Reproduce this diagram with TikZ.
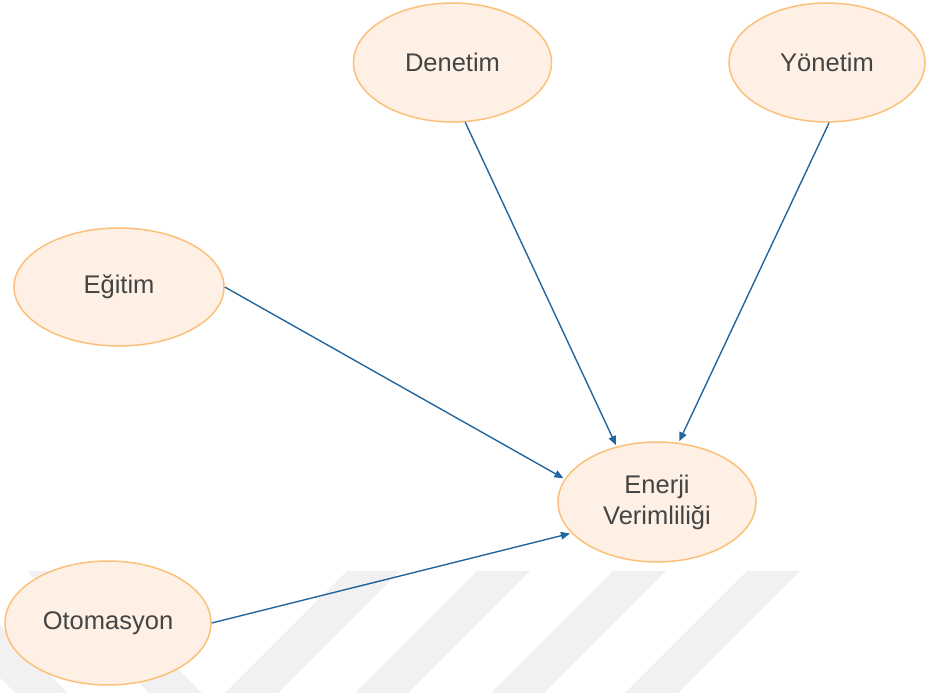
\documentclass[tikz,border=0pt]{standalone}
\usepackage{fontspec}
\setmainfont{Liberation Sans}
\usetikzlibrary{shapes.geometric,arrows.meta}
\definecolor{bubblefill}{HTML}{FEF0E4}
\definecolor{bubbleline}{HTML}{FBC07A}
\definecolor{linkblue}{HTML}{2266A0}
\definecolor{labelgray}{HTML}{444444}
\definecolor{stripegray}{HTML}{F1F1F1}
\begin{document}
\begin{tikzpicture}[x=1pt,y=1pt,
  bubble/.style={ellipse, draw=bubbleline, line width=1.5pt, fill=bubblefill,
    inner sep=0pt, text=labelgray, font=\fontsize{25.5}{31}\selectfont, align=center},
  link/.style={draw=linkblue, line width=1.4pt,
    -{Triangle[length=9pt,width=7.5pt]}, shorten >=1.5pt}]
\useasboundingbox (0,0) rectangle (926,693);
% faint diagonal bars along the bottom edge
\foreach \a in {-107,27}
  \fill[stripegray] (\a,122) -- ++(53,0) -- ++(122,-122) -- ++(-53,0) -- cycle;
\foreach \a in {347,477,613,747}
  \fill[stripegray] (\a,122) -- ++(53,0) -- ++(-122,-122) -- ++(-53,0) -- cycle;

% factors
\node[bubble, minimum width=198pt, minimum height=119pt] (den) at (452.5,630.5) {Denetim};
\node[bubble, minimum width=196pt, minimum height=119pt] (yon) at (827,630.5) {Yönetim};
\node[bubble, minimum width=210pt, minimum height=118pt] (egi) at (119,406) {Eğitim};
\node[bubble, minimum width=206pt, minimum height=124pt] (oto) at (108,70) {Otomasyon};
% outcome
\node[bubble, minimum width=198pt, minimum height=120pt] (ene) at (657,191) {Enerji\\Verimliliği};

% influences
\draw[link] (den.-78) -- (ene.126);
\draw[link] (yon.-88) -- (ene.70);
\draw[link] (egi.east) -- (ene.166);
\draw[link] (oto.east) -- (ene.200);
\end{tikzpicture}
\end{document}
